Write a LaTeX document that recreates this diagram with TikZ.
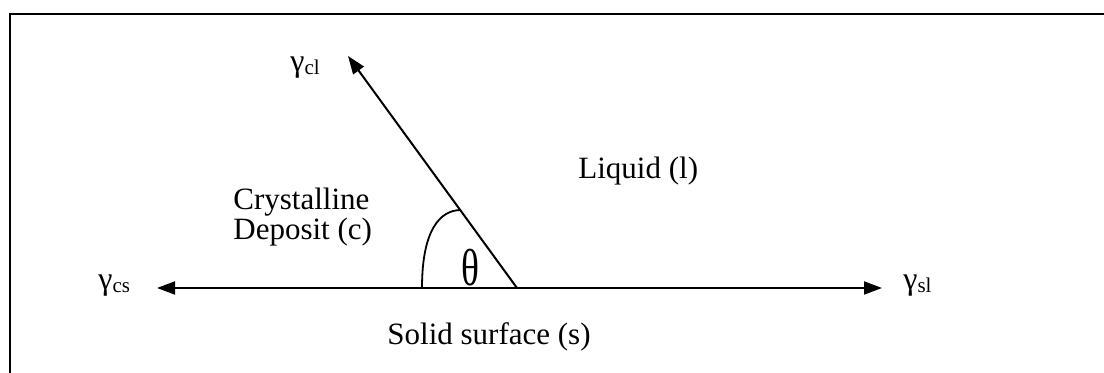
\documentclass[tikz,border=0pt]{standalone}
\usepackage{fontspec}
\setmainfont{Liberation Serif}
\usetikzlibrary{arrows.meta}
\tikzset{
  lbl/.style={inner sep=0pt, anchor=base west, font=\fontsize{15.5}{17}\selectfont},
  glbl/.style={inner sep=0pt, anchor=base west, font=\fontsize{16}{17}\selectfont},
  force/.style={line width=1pt, -{Triangle[length=9pt,width=6.5pt]}},
  frame/.style={line width=1pt},
}
\newcommand{\gsub}[1]{γ\raisebox{-1.5pt}{\fontsize{10.5}{11}\selectfont #1}}
\begin{document}
\begin{tikzpicture}[x=0.5pt,y=0.5pt]
\useasboundingbox (0,0) rectangle (1104,373);
% frame
\draw[frame] (10,0) -- (10,359) -- (1104,359);
% key points
\coordinate (C) at (517,85);
\coordinate (L) at (157,85);
\coordinate (R) at (882,85);
\coordinate (T) at (348,317);
\coordinate (A0) at (422,85);
\coordinate (A1) at (461,163);
% vectors
\draw[line width=1pt, {Triangle[length=9pt,width=6.5pt]}-{Triangle[length=9pt,width=6.5pt]}] (L) -- (R);
\draw[force] (C) -- (T);
% contact angle arc
\draw[line width=0.9pt] (A0) .. controls (422,143) and (440,163) .. (A1);
\node[inner sep=0pt] (theta) at (470,105) {\fontsize{26}{26}\selectfont\scalebox{0.72}[1]{θ}};
% labels
\node[glbl] (gcl) at (290,301) {\gsub{cl}};
\node[glbl] (gcs) at (98,83) {\gsub{cs}};
\node[glbl] (gsl) at (903,83) {\gsub{sl}};
\node[lbl] (liq) at (578,194) {Liquid (l)};
\node[lbl] (crys) at (233,163) {Crystalline};
\node[lbl] (depo) at (233,133) {Deposit (c)};
\node[lbl] (solid) at (387,28) {Solid surface (s)};
\end{tikzpicture}
\end{document}
